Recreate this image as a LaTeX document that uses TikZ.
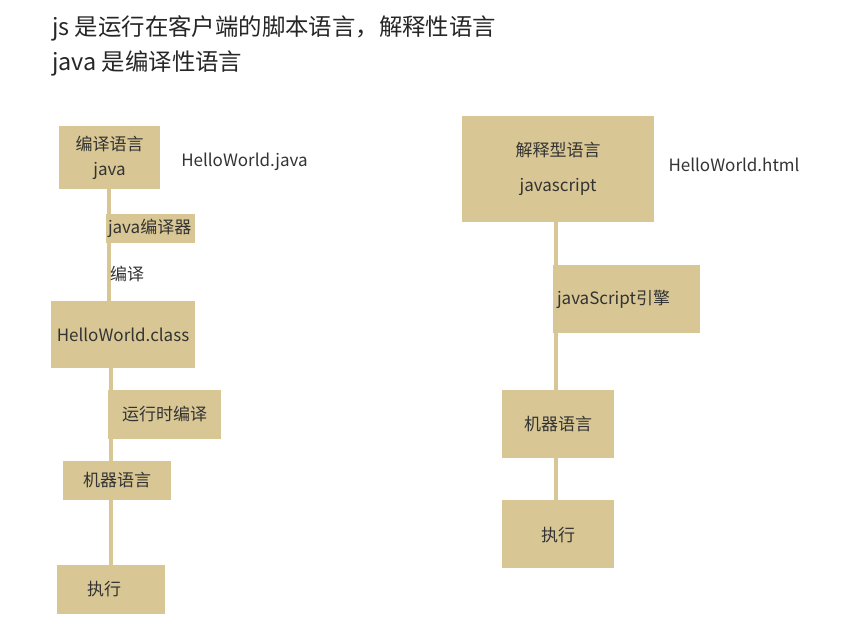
\documentclass[tikz,border=0pt]{standalone}
\usepackage{fontspec}
\setmainfont{Noto Sans CJK SC}
\usetikzlibrary{backgrounds}
\definecolor{tan}{HTML}{D8C794}
\definecolor{ink}{HTML}{333333}
\tikzset{
  box/.style={fill=tan, draw=none, inner sep=0pt, text=ink, font=\fontsize{17}{20}\selectfont},
  conn/.style={draw=tan, line width=4pt},
  plain/.style={text=ink, inner sep=0pt, font=\fontsize{17}{20}\selectfont},
  title/.style={text=black!85, inner sep=0pt, anchor=west, font=\fontsize{23.4}{27}\selectfont}
}
\begin{document}
\begin{tikzpicture}[x=1pt,y=-1pt]
\useasboundingbox (0,0) rectangle (847,627);
% titles
\node[title] (t1) at (52,28) {js 是运行在客户端的脚本语言，解释性语言};
\node[title] (t2) at (52,63) {java 是编译性语言};
% left column
\node[box, minimum width=101pt, minimum height=63pt, align=center, font=\fontsize{17}{25}\selectfont] (b1) at (109.5,157.5) {编译语言\\java};
\node[plain] (hj) at (244.5,162) {HelloWorld.java};
\node[box, minimum height=29pt, text width=85pt, inner xsep=2pt, align=left] (jc) at (150.5,228.5) {java编译器};
\node[plain] (by) at (127,274) {编译};
\node[box, minimum width=144pt, minimum height=67pt] (b2) at (123,334.5) {HelloWorld.class};
\node[box, minimum width=113pt, minimum height=49pt] (rt) at (164.5,414.5) {运行时编译};
\node[box, minimum width=108pt, minimum height=39pt] (m1) at (117,480.5) {机器语言};
\node[box, minimum height=49pt, text width=48pt, inner xsep=30pt, align=left] (e1) at (111,589.5) {执行};
% right column
\node[box, minimum width=192pt, minimum height=106pt, align=center, font=\fontsize{17}{35}\selectfont] (b3) at (558,169) {解释型语言\\javascript};
\node[plain] (hh) at (734,165) {HelloWorld.html};
\node[box, minimum height=68pt, text width=139pt, inner xsep=4pt, align=left] (jse) at (626.5,299) {javaScript引擎};
\node[box, minimum width=112pt, minimum height=68pt] (m2) at (558,424) {机器语言};
\node[box, minimum width=112pt, minimum height=68pt, text depth=-6pt] (e2) at (558,534) {执行};
% connector x positions
\coordinate (l1) at (108.5,0);
\coordinate (l2) at (110.5,0);
\coordinate (l3) at (111,0);
\coordinate (r1) at (555.5,0);
\begin{scope}[on background layer]
\draw[conn] (b1.south -| l1) -- (b2.north -| l1);
\draw[conn] (b2.south -| l2) -- (m1.north -| l2);
\draw[conn] (m1.south -| l3) -- (e1.north -| l3);
\draw[conn] (b3.south -| r1) -- (m2.north -| r1);
\draw[conn] (m2.south -| r1) -- (e2.north -| r1);
\end{scope}
\end{tikzpicture}
\end{document}
